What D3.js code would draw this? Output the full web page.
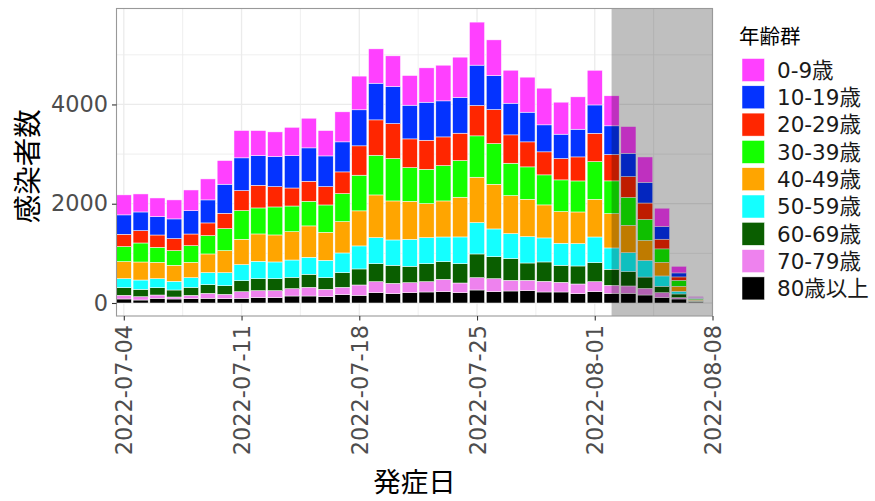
<!DOCTYPE html>
<html>
<head>
<meta charset="utf-8">
<script src="https://cdn.jsdelivr.net/npm/d3@7"></script>
<style>
  html, body { margin: 0; padding: 0; background: #fff; }
  svg { display: block; }
</style>
</head>
<body>
<svg id="chart" width="875" height="501"></svg>
<script>
// Onset dates (one bar per day)
const dates = [
  "2022-07-04","2022-07-05","2022-07-06","2022-07-07","2022-07-08","2022-07-09","2022-07-10",
  "2022-07-11","2022-07-12","2022-07-13","2022-07-14","2022-07-15","2022-07-16","2022-07-17",
  "2022-07-18","2022-07-19","2022-07-20","2022-07-21","2022-07-22","2022-07-23","2022-07-24",
  "2022-07-25","2022-07-26","2022-07-27","2022-07-28","2022-07-29","2022-07-30","2022-07-31",
  "2022-08-01","2022-08-02","2022-08-03","2022-08-04","2022-08-05","2022-08-06","2022-08-07"
];

// Age groups, top of the stack first (legend order)
const ageGroups = ["0-9歳","10-19歳","20-29歳","30-39歳","40-49歳","50-59歳","60-69歳","70-79歳","80歳以上"];
const ageColors = ["#FF40FF","#0433FF","#FF2600","#14FF00","#FFA500","#14FFFF","#0A5E00","#EE82EE","#000000"];

// Daily case counts per age group
const age0_9   = [403,363,376,383,417,423,477,551,504,497,571,598,511,605,679,692,618,598,692,719,813,867,719,665,706,739,645,652,699,605,538,511,370,134,20];
const age10_19 = [390,376,370,396,470,464,585,659,598,605,652,672,618,605,726,739,746,679,766,726,719,813,685,638,598,544,491,558,571,578,470,417,255,81,15];
const age20_29 = [249,249,249,242,235,255,309,403,457,410,363,403,370,437,591,712,706,578,585,578,551,612,685,571,504,464,430,484,571,531,417,329,195,67,10];
const age30_39 = [302,383,302,296,336,370,444,578,524,564,517,497,551,564,719,800,853,679,692,712,739,833,820,652,652,605,638,625,759,659,564,423,269,121,20];
const age40_49 = [343,363,329,323,309,376,444,511,551,544,571,632,564,632,706,860,786,766,685,726,800,914,900,766,753,665,638,638,759,692,551,403,276,101,15];
const age50_59 = [181,188,181,175,195,242,262,323,349,336,349,343,349,396,464,524,511,544,524,497,538,632,558,504,531,484,444,450,517,430,383,336,208,54,10];
const age60_69 = [155,148,148,141,161,175,175,222,242,242,228,262,235,296,323,363,363,329,363,356,390,477,444,437,349,390,343,363,383,323,289,228,128,74,10];
const age70_79 = [74,67,67,40,67,101,87,134,141,141,148,175,148,148,208,222,208,202,208,249,195,249,262,215,208,215,195,195,202,161,148,134,101,27,10];
const age80up  = [81,60,94,81,87,94,87,94,108,108,141,141,128,168,155,208,188,208,222,228,208,262,228,242,249,222,222,188,228,195,195,161,108,81,20];

// Axis ticks and the shaded (incomplete reporting) period
const xTickLabels = ["2022-07-04","2022-07-11","2022-07-18","2022-07-25","2022-08-01","2022-08-08"];
const yTicks = [0, 2000, 4000];
const yMinorTicks = [1000, 3000, 5000];
const shadeStart = "2022-08-02";
const shadeEnd = "2022-08-08";

const seriesValues = [age0_9, age10_19, age20_29, age30_39, age40_49, age50_59, age60_69, age70_79, age80up];

// Build a table: one row per date, one column per age group
const parse = d3.utcParse("%Y-%m-%d");
const rows = dates.map((d, i) => {
  const r = { date: parse(d) };
  ageGroups.forEach((g, k) => { r[g] = seriesValues[k][i]; });
  return r;
});

// Stack with the oldest group at the bottom
const stackKeys = ageGroups.slice().reverse();
const stacked = d3.stack().keys(stackKeys)(rows);
const color = d3.scaleOrdinal().domain(ageGroups).range(ageColors);

const panel = { left: 116.5, right: 712.5, top: 8.5, bottom: 316 };
const DAY = 864e5;

const x = d3.scaleUtc()
  .domain([new Date(parse(dates[0]).getTime() - 0.434 * DAY), parse(shadeEnd)])
  .range([panel.left, panel.right]);
const y = d3.scaleLinear()
  .domain([-262, 5933])
  .range([panel.bottom, panel.top]);

const barW = 0.9 * (x(parse(dates[1])) - x(parse(dates[0])));

const svg = d3.select("#chart");
const numFont = "'DejaVu Sans', 'Noto Sans CJK JP', sans-serif";
const cjkFont = "'Noto Sans CJK JP', 'DejaVu Sans', sans-serif";

// Panel background
svg.append("rect")
  .attr("x", panel.left).attr("y", panel.top)
  .attr("width", panel.right - panel.left).attr("height", panel.bottom - panel.top)
  .attr("fill", "#fff");

const grid = svg.append("g");
// Horizontal grid
grid.selectAll(".hmin").data(yMinorTicks).join("line")
  .attr("x1", panel.left).attr("x2", panel.right)
  .attr("y1", d => y(d)).attr("y2", d => y(d))
  .attr("stroke", "#EBEBEB").attr("stroke-width", 0.8);
grid.selectAll(".hmaj").data(yTicks).join("line")
  .attr("x1", panel.left).attr("x2", panel.right)
  .attr("y1", d => y(d)).attr("y2", d => y(d))
  .attr("stroke", "#EBEBEB").attr("stroke-width", 1.3);

// Vertical grid: weekly major lines and mid-week minor lines
const xTickDates = xTickLabels.map(parse);
const xMinorDates = xTickDates.slice(0, -1).map(d => new Date(d.getTime() + 3.5 * DAY));
grid.selectAll(".vmin").data(xMinorDates).join("line")
  .attr("x1", d => x(d)).attr("x2", d => x(d))
  .attr("y1", panel.top).attr("y2", panel.bottom)
  .attr("stroke", "#EBEBEB").attr("stroke-width", 0.8);
grid.selectAll(".vmaj").data(xTickDates).join("line")
  .attr("x1", d => x(d)).attr("x2", d => x(d))
  .attr("y1", panel.top).attr("y2", panel.bottom)
  .attr("stroke", "#EBEBEB").attr("stroke-width", 1.3);

// Stacked bars
svg.append("g").selectAll("g").data(stacked).join("g")
  .attr("fill", s => color(s.key))
  .selectAll("rect").data(s => s).join("rect")
  .attr("x", d => x(d.data.date) - barW / 2)
  .attr("width", barW)
  .attr("y", d => y(d[1]))
  .attr("height", d => y(d[0]) - y(d[1]))
  .attr("stroke", "#fff")
  .attr("stroke-width", 0.5);

// Shaded recent period
svg.append("rect")
  .attr("x", x(parse(shadeStart)))
  .attr("y", panel.top)
  .attr("width", x(parse(shadeEnd)) - x(parse(shadeStart)))
  .attr("height", panel.bottom - panel.top)
  .attr("fill", "#000").attr("fill-opacity", 0.25);

// Panel border
svg.append("rect")
  .attr("x", panel.left).attr("y", panel.top)
  .attr("width", panel.right - panel.left).attr("height", panel.bottom - panel.top)
  .attr("fill", "none").attr("stroke", "#999").attr("stroke-width", 1.1);

// Y axis
const yAxis = svg.append("g")
  .attr("transform", `translate(${panel.left},0)`)
  .call(d3.axisLeft(y).tickValues(yTicks).tickSize(4.5).tickPadding(4).tickFormat(d3.format("d")));
yAxis.select(".domain").remove();
yAxis.selectAll(".tick line").attr("stroke", "#333").attr("stroke-width", 1.1);
yAxis.selectAll(".tick text")
  .attr("fill", "#4D4D4D").attr("font-family", numFont).attr("font-size", 22.4);

// X axis with vertical date labels
const xAxis = svg.append("g")
  .attr("transform", `translate(0,${panel.bottom})`)
  .call(d3.axisBottom(x).tickValues(xTickDates).tickSize(4.5).tickFormat(d3.utcFormat("%Y-%m-%d")));
xAxis.select(".domain").remove();
xAxis.selectAll(".tick line").attr("stroke", "#333").attr("stroke-width", 1.1);
xAxis.selectAll(".tick text")
  .attr("fill", "#4D4D4D").attr("font-family", numFont).attr("font-size", 22.4)
  .attr("transform", "rotate(-90)")
  .attr("text-anchor", "end")
  .attr("x", -9).attr("y", 0).attr("dy", "0.36em");

// Axis titles
svg.append("text")
  .attr("x", (panel.left + panel.right) / 2).attr("y", 492)
  .attr("text-anchor", "middle")
  .attr("font-family", cjkFont).attr("font-size", 27.5).attr("fill", "#000")
  .text("発症日");
svg.append("text")
  .attr("transform", `translate(38,${(panel.top + panel.bottom) / 2 + 4}) rotate(-90)`)
  .attr("text-anchor", "middle")
  .attr("font-family", cjkFont).attr("font-size", 28.5).attr("fill", "#000")
  .text("感染者数");

// Legend
const legend = svg.append("g");
legend.append("text")
  .attr("x", 739).attr("y", 44)
  .attr("font-family", cjkFont).attr("font-size", 20.5).attr("fill", "#000")
  .text("年齢群");
const item = legend.selectAll(".item").data(ageGroups).join("g")
  .attr("transform", (d, i) => `translate(742,${58.5 + i * 27.3})`);
item.append("rect")
  .attr("width", 22.5).attr("height", 23)
  .attr("fill", d => color(d))
  .attr("stroke", "#fff").attr("stroke-width", 0.5);
item.append("text")
  .attr("x", 35).attr("y", 11.5).attr("dy", "0.36em")
  .attr("font-family", numFont).attr("font-size", 21.5).attr("fill", "#1A1A1A")
  .text(d => d);
</script>
</body>
</html>
